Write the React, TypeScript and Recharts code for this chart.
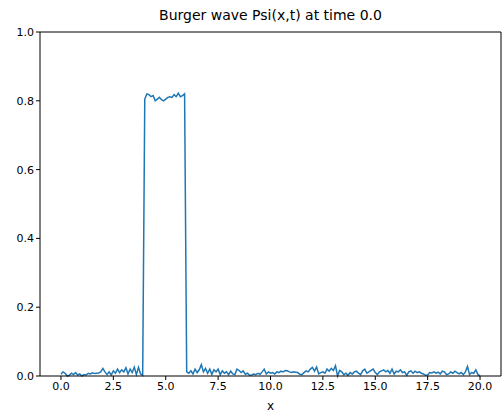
import React from "react";
import {
  LineChart,
  Line,
  XAxis,
  YAxis,
  ReferenceLine,
} from "recharts";

// Sample positions along x (step 0.1 from 0 to 20)
const X_POS = [
  0.0, 0.1, 0.2, 0.3, 0.4, 0.5, 0.6, 0.7, 0.8, 0.9,
  1.0, 1.1, 1.2, 1.3, 1.4, 1.5, 1.6, 1.7, 1.8, 1.9,
  2.0, 2.1, 2.2, 2.3, 2.4, 2.5, 2.6, 2.7, 2.8, 2.9,
  3.0, 3.1, 3.2, 3.3, 3.4, 3.5, 3.6, 3.7, 3.8, 3.9,
  4.0, 4.1, 4.2, 4.3, 4.4, 4.5, 4.6, 4.7, 4.8, 4.9,
  5.0, 5.1, 5.2, 5.3, 5.4, 5.5, 5.6, 5.7, 5.8, 5.9,
  6.0, 6.1, 6.2, 6.3, 6.4, 6.5, 6.6, 6.7, 6.8, 6.9,
  7.0, 7.1, 7.2, 7.3, 7.4, 7.5, 7.6, 7.7, 7.8, 7.9,
  8.0, 8.1, 8.2, 8.3, 8.4, 8.5, 8.6, 8.7, 8.8, 8.9,
  9.0, 9.1, 9.2, 9.3, 9.4, 9.5, 9.6, 9.7, 9.8, 9.9,
  10.0, 10.1, 10.2, 10.3, 10.4, 10.5, 10.6, 10.7, 10.8, 10.9,
  11.0, 11.1, 11.2, 11.3, 11.4, 11.5, 11.6, 11.7, 11.8, 11.9,
  12.0, 12.1, 12.2, 12.3, 12.4, 12.5, 12.6, 12.7, 12.8, 12.9,
  13.0, 13.1, 13.2, 13.3, 13.4, 13.5, 13.6, 13.7, 13.8, 13.9,
  14.0, 14.1, 14.2, 14.3, 14.4, 14.5, 14.6, 14.7, 14.8, 14.9,
  15.0, 15.1, 15.2, 15.3, 15.4, 15.5, 15.6, 15.7, 15.8, 15.9,
  16.0, 16.1, 16.2, 16.3, 16.4, 16.5, 16.6, 16.7, 16.8, 16.9,
  17.0, 17.1, 17.2, 17.3, 17.4, 17.5, 17.6, 17.7, 17.8, 17.9,
  18.0, 18.1, 18.2, 18.3, 18.4, 18.5, 18.6, 18.7, 18.8, 18.9,
  19.0, 19.1, 19.2, 19.3, 19.4, 19.5, 19.6, 19.7, 19.8, 19.9,
  20.0,
];

// Psi(x, t=0): noisy floor with a square pulse between x=4 and x=6
const PSI = [
  0.005, 0.012, 0.008, 0.0, 0.002, 0.008, 0.004, 0.01, 0.003, 0.006,
  0.0, 0.004, 0.003, 0.008, 0.006, 0.009, 0.007, 0.008, 0.009, 0.012,
  0.022, 0.012, 0.004, 0.012, 0.003, 0.015, 0.008, 0.02, 0.01, 0.018,
  0.012, 0.024, 0.006, 0.02, 0.01, 0.026, 0.004, 0.025, 0.006, 0.002,
  0.805, 0.82, 0.818, 0.812, 0.815, 0.8, 0.805, 0.81, 0.803, 0.8,
  0.805, 0.81, 0.812, 0.81, 0.818, 0.812, 0.822, 0.812, 0.815, 0.82,
  0.012, 0.008, 0.015, 0.006, 0.02, 0.01, 0.018, 0.033, 0.012, 0.022,
  0.008, 0.02, 0.005, 0.018, 0.012, 0.02, 0.004, 0.015, 0.008, 0.012,
  0.004, 0.014, 0.006, 0.004, 0.02, 0.016, 0.01, 0.015, 0.005, 0.008,
  0.002, 0.003, 0.006, 0.004, 0.008, 0.005, 0.012, 0.02, 0.006, 0.012,
  0.008, 0.01, 0.006, 0.012, 0.01, 0.014, 0.012, 0.016, 0.015, 0.012,
  0.01, 0.012, 0.011, 0.01, 0.005, 0.004, 0.01, 0.015, 0.012, 0.02,
  0.025, 0.014, 0.026, 0.006, 0.01, 0.012, 0.008, 0.02, 0.014, 0.022,
  0.016, 0.03, 0.0, 0.016, 0.012, 0.004, 0.008, 0.002, 0.01, 0.006,
  0.012, 0.014, 0.008, 0.004, 0.015, 0.02, 0.008, 0.012, 0.016, 0.02,
  0.01, 0.004, 0.012, 0.015, 0.018, 0.012, 0.016, 0.008, 0.02, 0.006,
  0.014, 0.012, 0.018, 0.01, 0.012, 0.002, 0.012, 0.015, 0.008, 0.014,
  0.01, 0.012, 0.008, 0.006, 0.002, 0.003, 0.01, 0.009, 0.012, 0.008,
  0.011, 0.006, 0.014, 0.012, 0.004, 0.006, 0.012, 0.008, 0.014, 0.01,
  0.006, 0.01, 0.004, 0.012, 0.028, 0.004, 0.01, 0.008, 0.018, 0.004,
  0.0,
];

const X_TICKS = [0, 2.5, 5, 7.5, 10, 12.5, 15, 17.5, 20];
const Y_TICKS = [0, 0.2, 0.4, 0.6, 0.8, 1.0];
const X_DOMAIN: [number, number] = [-1, 21];
const Y_DOMAIN: [number, number] = [0, 1];

const TITLE = "Burger wave Psi(x,t) at time 0.0";

const data = X_POS.map((x, i) => ({ x, psi: PSI[i] }));

const FONT = "'DejaVu Sans', sans-serif";
const tickStyle = { fontSize: 11, fill: "#000", fontFamily: FONT };

export default function App() {
  return (
    <div
      style={{
        position: "absolute",
        left: 0,
        top: 0,
        width: 503,
        height: 414,
        background: "#fff",
        fontFamily: FONT,
      }}
    >
      <div
        style={{
          position: "absolute",
          left: 40,
          width: 461,
          top: 7,
          textAlign: "center",
          fontSize: 14,
          color: "#000",
        }}
      >
        {TITLE}
      </div>
      <LineChart
        width={503}
        height={414}
        data={data}
        margin={{ top: 32, right: 2, bottom: 0, left: 0 }}
      >
        <XAxis
          dataKey="x"
          type="number"
          domain={X_DOMAIN}
          ticks={X_TICKS}
          tickFormatter={(v: number) => v.toFixed(1)}
          allowDataOverflow
          height={38}
          stroke="#000"
          tickSize={4}
          tick={tickStyle}
          label={{
            value: "x",
            position: "insideBottom",
            offset: 4,
            style: { fontSize: 12, fill: "#000", fontFamily: FONT },
          }}
        />
        <YAxis
          type="number"
          domain={Y_DOMAIN}
          ticks={Y_TICKS}
          tickFormatter={(v: number) => v.toFixed(1)}
          width={40}
          stroke="#000"
          tickSize={4}
          tick={tickStyle}
        />
        {/* top and right spines */}
        <ReferenceLine y={Y_DOMAIN[1]} stroke="#000" strokeWidth={1} />
        <ReferenceLine x={X_DOMAIN[1]} stroke="#000" strokeWidth={1} />
        <Line
          type="linear"
          dataKey="psi"
          stroke="#1f77b4"
          strokeWidth={1.5}
          dot={false}
          isAnimationActive={false}
        />
      </LineChart>
    </div>
  );
}
